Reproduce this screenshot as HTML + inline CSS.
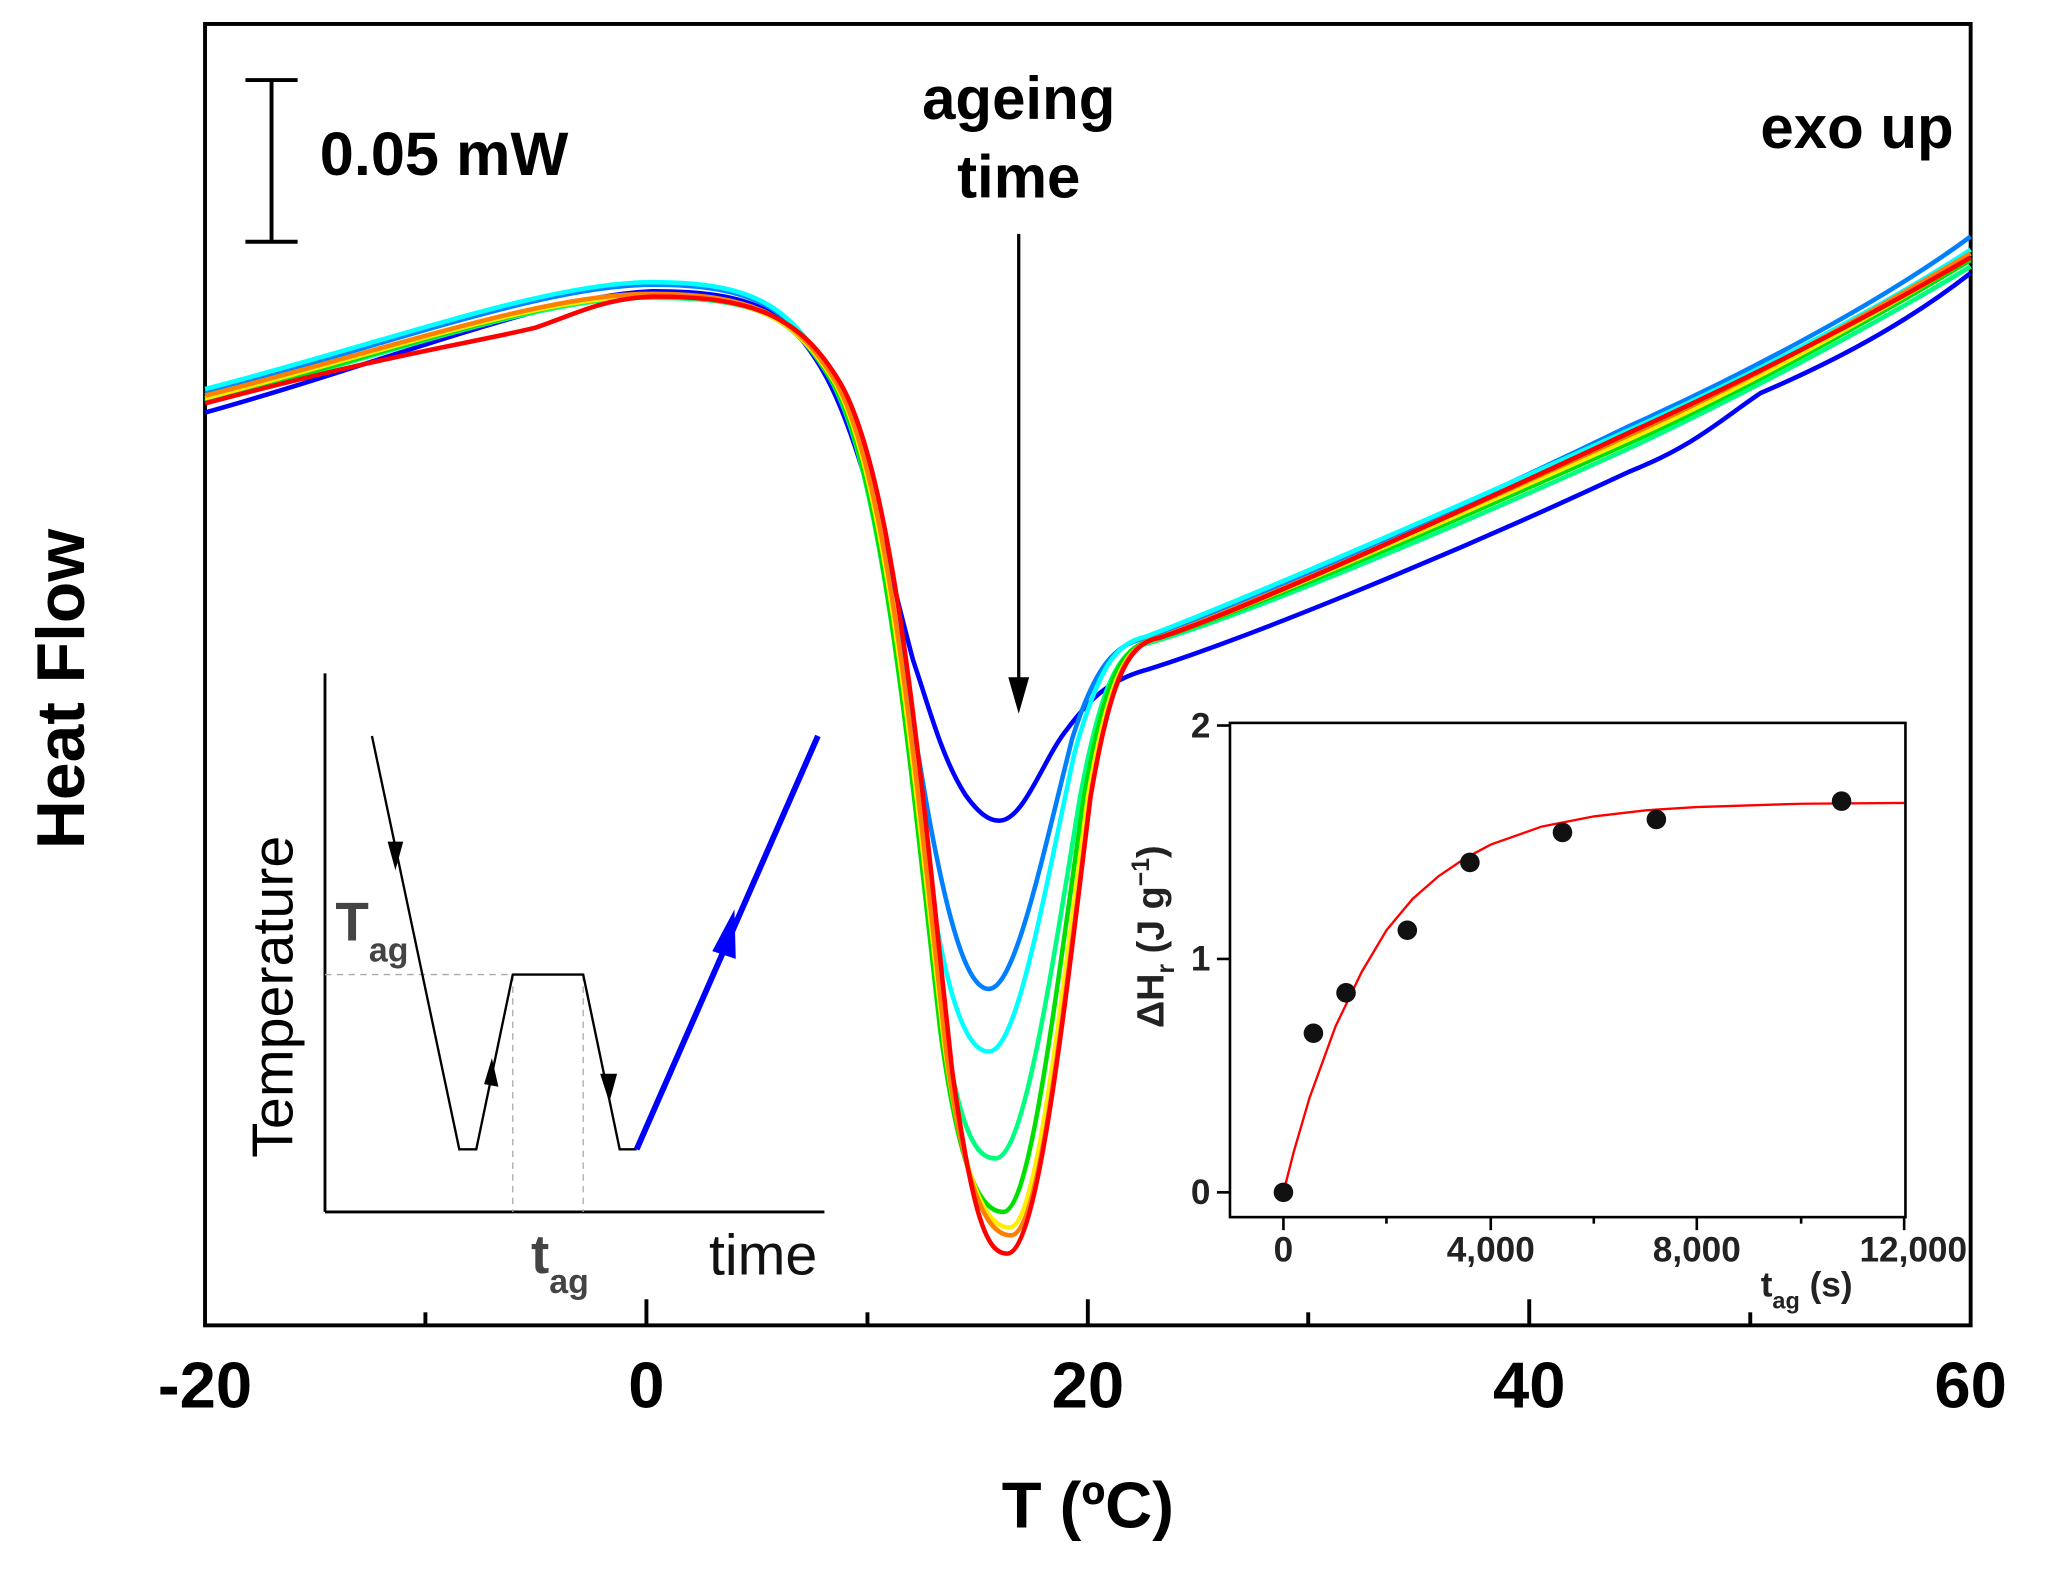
<!DOCTYPE html>
<html><head><meta charset="utf-8"><style>
html,body{margin:0;padding:0;background:#fff;}
svg{display:block;}
text{font-family:"Liberation Sans",Arial,sans-serif;}
</style></head><body>
<svg width="2046" height="1574" viewBox="0 0 2046 1574" xmlns="http://www.w3.org/2000/svg">
<rect width="2046" height="1574" fill="#fff"/>
<g transform="translate(0.3,1.8) scale(1.304)">
<!-- main frame -->
<rect x="157" y="17" width="1354" height="998" fill="none" stroke="#000" stroke-width="3"/>
<g stroke="#000" stroke-width="3">
<line x1="495.5" y1="1015" x2="495.5" y2="995"/>
<line x1="834" y1="1015" x2="834" y2="995"/>
<line x1="1172.5" y1="1015" x2="1172.5" y2="995"/>
<line x1="326" y1="1015" x2="326" y2="1005"/>
<line x1="665" y1="1015" x2="665" y2="1005"/>
<line x1="1003" y1="1015" x2="1003" y2="1005"/>
<line x1="1342" y1="1015" x2="1342" y2="1005"/>
</g>
<g font-size="50" font-weight="bold" text-anchor="middle">
<text x="157" y="1078">-20</text>
<text x="495.5" y="1078">0</text>
<text x="834" y="1078">20</text>
<text x="1172.5" y="1078">40</text>
<text x="1511" y="1078">60</text>
<text x="834" y="1170">T (ºC)</text>
<text x="0" y="0" transform="translate(64,527) rotate(-90)" font-size="52">Heat Flow</text>
</g>
<!-- scale bar -->
<g stroke="#000" stroke-width="3">
<line x1="208" y1="60" x2="208" y2="184"/>
<line x1="188" y1="60" x2="228" y2="60"/>
<line x1="188" y1="184" x2="228" y2="184"/>
</g>
<text x="245" y="133" font-size="47" font-weight="bold">0.05 mW</text>
<g font-size="46" font-weight="bold" text-anchor="middle">
<text x="781" y="90">ageing</text>
<text x="781" y="150">time</text>
</g>
<text x="1498" y="112" font-size="46" font-weight="bold" text-anchor="end">exo up</text>
<line x1="781" y1="178" x2="781" y2="540" stroke="#000" stroke-width="2.5"/>
<path d="M773,518 L781,546 L789,518 Z" fill="#000"/>
<!-- curves -->
<g fill="none" stroke-width="3.5">
<path stroke="#0000ff" d="M157,315 C300,275 420,225 500,222 C580,222 605,238 632,285 C660,335 680,430 700,505 C712,540 722,580 740,608 C750,622 758,628 766,628 C785,628 800,580 818,558 C835,535 850,520 880,512 C950,490 1100,430 1250,360 C1300,340 1320,320 1350,300 C1420,270 1470,240 1511,208"/>
<path stroke="#0080ff" d="M157,300 C300,262 420,217 500,217 C580,217 607,236 635,286 C672,352 693,520 713,630 C728,710 742,757 758,757 C778,757 798,660 822,565 C840,508 855,493 878,488 C950,462 1100,398 1250,325 C1350,280 1450,225 1511,180"/>
<path stroke="#00ffff" d="M157,297 C300,260 420,215 500,215 C580,215 607,235 636,286 C674,352 695,560 715,690 C728,770 742,805 758,805 C780,805 800,685 824,575 C843,508 856,492 878,487 C950,460 1100,395 1250,328 C1350,283 1450,230 1511,190"/>
<path stroke="#00ff80" d="M157,307 C300,270 420,225 500,227 C580,227 608,240 637,290 C676,358 697,580 719,760 C734,860 746,887 763,887 C785,887 805,750 828,610 C845,520 858,497 880,492 C950,472 1100,410 1250,342 C1350,295 1450,240 1511,203"/>
<path stroke="#00e000" d="M157,306 C300,269 420,224 500,226 C580,226 609,241 638,291 C678,360 699,600 721,790 C736,900 752,928 769,928 C790,928 808,770 831,610 C847,518 860,495 882,490 C950,470 1100,405 1250,338 C1350,292 1450,235 1511,198"/>
<path stroke="#ffee00" d="M157,304 C300,267 420,224 500,226 C580,226 610,242 640,292 C681,364 702,610 724,800 C740,915 758,940 774,940 C795,940 812,775 834,610 C850,518 863,494 885,489 C950,468 1100,402 1250,335 C1350,290 1450,232 1511,196"/>
<path stroke="#ff8000" d="M157,302 C300,266 420,223 500,224 C580,224 611,242 641,292 C683,366 704,615 726,810 C742,925 760,946 775,946 C797,946 814,780 836,610 C852,515 865,492 887,488 C950,466 1100,400 1250,332 C1350,287 1450,229 1511,193"/>
<path stroke="#ff0000" d="M157,308 C300,270 360,262 410,250 C440,240 460,228 500,226 C580,226 614,242 644,292 C688,368 708,620 730,820 C746,935 757,960 772,960 C795,960 814,790 836,610 C852,515 866,492 888,488 C950,468 1100,400 1250,330 C1350,285 1450,232 1511,196"/>
</g>
<!-- left inset -->
<g stroke="#000" stroke-width="2.2" fill="none">
<line x1="249" y1="515" x2="249" y2="928"/>
<line x1="249" y1="928" x2="632" y2="928"/>
</g>
<g stroke="#aaa" stroke-width="1" stroke-dasharray="5,4">
<line x1="249" y1="746" x2="393" y2="746"/>
<line x1="393" y1="746" x2="393" y2="928"/>
<line x1="447" y1="746" x2="447" y2="928"/>
</g>
<path d="M285,563 L352,880 L365,880 L393,746 L447,746 L475,880 L488,880" fill="none" stroke="#000" stroke-width="1.8"/>
<path d="M297,644 L303,666 L309,644 Z M371,830 L377,810 L382,832 Z M460,822 L467,844 L473,822 Z" fill="#000"/>
<line x1="488" y1="880" x2="627" y2="563" stroke="#0000ff" stroke-width="4.5"/>
<path d="M546,728 L563,696 L564,734 Z" fill="#0000ff"/>
<text x="0" y="0" transform="translate(224,763) rotate(-90)" font-size="44" text-anchor="middle">Temperature</text>
<text x="257" y="720" font-size="42" font-weight="bold" fill="#444">T<tspan font-size="26" dy="16">ag</tspan></text>
<text x="407" y="975" font-size="42" font-weight="bold" fill="#444">t<tspan font-size="26" dy="15">ag</tspan></text>
<text x="585" y="976" font-size="44" text-anchor="middle" fill="#111">time</text>
<!-- right inset -->
<rect x="943" y="553" width="518" height="379" fill="#fff" stroke="#000" stroke-width="2"/>
<g stroke="#000" stroke-width="2">
<line x1="984" y1="932" x2="984" y2="942"/>
<line x1="1143" y1="932" x2="1143" y2="942"/>
<line x1="1301" y1="932" x2="1301" y2="942"/>
<line x1="1460" y1="932" x2="1460" y2="942"/>
<line x1="1063" y1="932" x2="1063" y2="937"/>
<line x1="1222" y1="932" x2="1222" y2="937"/>
<line x1="1381" y1="932" x2="1381" y2="937"/>
<line x1="943" y1="913" x2="933" y2="913"/>
<line x1="943" y1="734" x2="933" y2="734"/>
<line x1="943" y1="555" x2="933" y2="555"/>
</g>
<g font-size="27" font-weight="bold" fill="#222">
<g text-anchor="end"><text x="928" y="922">0</text><text x="928" y="743">1</text><text x="928" y="564">2</text></g>
<g text-anchor="middle"><text x="984" y="966">0</text><text x="1143" y="966">4,000</text><text x="1301" y="966">8,000</text><text x="1467" y="966">12,000</text></g>
<text x="1350" y="993">t<tspan font-size="18" dy="9">ag</tspan><tspan dy="-9"> (s)</tspan></text>
<text x="0" y="0" transform="translate(892,787) rotate(-90)" font-size="29">ΔH<tspan font-size="19" dy="8">r</tspan><tspan dy="-8"> (J g</tspan><tspan font-size="19" dy="-11">−1</tspan><tspan dy="11">)</tspan></text>
</g>
<path d="M984,913 L992,881.6 L1004,840.5 L1024,785.6 L1044,744 L1063,712 L1083,688 L1103,670.5 L1123,657 L1143,646.3 L1182,632.5 L1222,624.7 L1262,620 L1301,617.5 L1381,615 L1460,614.4" fill="none" stroke="#ff0000" stroke-width="1.8"/>
<g fill="#111">
<circle cx="984" cy="913" r="7.5"/><circle cx="1007" cy="791" r="7.5"/><circle cx="1032" cy="760" r="7.5"/><circle cx="1079" cy="712" r="7.5"/><circle cx="1127" cy="660" r="7.5"/><circle cx="1198" cy="637" r="7.5"/><circle cx="1270" cy="627" r="7.5"/><circle cx="1412" cy="613" r="7.5"/>
</g>
</g>
</svg>
</body></html>
